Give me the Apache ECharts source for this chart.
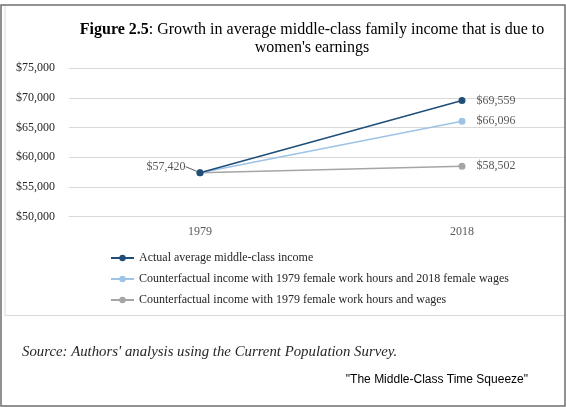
<!DOCTYPE html>
<html>
<head>
<meta charset="utf-8">
<script src="https://cdn.jsdelivr.net/npm/echarts@6/dist/echarts.min.js"></script>
<style>
html,body{margin:0;padding:0;background:#fff;}
#chart{width:566px;height:407px;}
</style>
</head>
<body>
<div id="chart"></div>
<script>
const categories = ['1979', '2018'];
const actualIncome = [57420, 69559];
const cfHours1979Wages2018 = [57420, 66096];
const cfHoursWages1979 = [57420, 58502];
const seriesNames = [
  'Actual average middle-class income',
  'Counterfactual income with 1979 female work hours and 2018 female wages',
  'Counterfactual income with 1979 female work hours and wages'
];
const yMin = 50000, yMax = 75000, yStep = 5000;
const titleBold = 'Figure 2.5';
const titleRest = ': Growth in average middle-class family income that is due to';
const titleLine2 = "women's earnings";
const sourceText = "Source: Authors' analysis using the Current Population Survey.";
const creditText = '"The Middle-Class Time Squeeze"';

const SERIF = "'Liberation Serif', 'Times New Roman', serif";
const fmt = v => '$' + Number(v).toLocaleString('en-US');

const chart = echarts.init(document.getElementById('chart'));

function lineSeries(name, data, color, z, firstLabel) {
  const s = {
    name: name,
    type: 'line',
    data: data.map((v, i) => {
      const item = { value: v };
      if (i === 0) {
        if (firstLabel) {
          item.label = { show: true, position: 'left', distance: 11 };
          item.labelLine = { show: true, length2: 0, lineStyle: { color: '#595959', width: 1 } };
        } else {
          item.label = { show: false };
        }
      }
      return item;
    }),
    symbol: 'circle',
    symbolSize: 7,
    z: z,
    itemStyle: { color: color },
    lineStyle: { color: color, width: 1.5 },
    label: {
      show: true,
      position: 'right',
      distance: 11,
      color: '#595959',
      fontFamily: SERIF,
      fontSize: 12,
      formatter: p => fmt(p.value)
    },
    labelLine: { show: false },
    emphasis: { disabled: true },
    animation: false
  };
  if (firstLabel) {
    s.labelLayout = function (p) {
      return p.dataIndex === 0 ? { dy: -6 } : {};
    };
  }
  return s;
}

chart.setOption({
  backgroundColor: '#ffffff',
  animation: false,
  title: {
    text: '{b|' + titleBold + '}' + titleRest + '\n' + titleLine2,
    left: 307,
    top: 16,
    textAlign: 'center',
    textStyle: {
      fontFamily: SERIF,
      fontSize: 16,
      fontWeight: 'normal',
      color: '#000',
      lineHeight: 18,
      rich: {
        b: { fontFamily: SERIF, fontSize: 16, fontWeight: 'bold', color: '#000', lineHeight: 18 }
      }
    }
  },
  legend: {
    orient: 'vertical',
    left: 105,
    top: 247,
    itemWidth: 23,
    itemHeight: 8,
    itemGap: 9,
    data: seriesNames,
    textStyle: { fontFamily: SERIF, fontSize: 12, color: '#262626' },
    selectedMode: false
  },
  grid: {
    left: 69,
    width: 524,
    top: 68.3,
    bottom: 190.3,
    containLabel: false,
    outerBoundsMode: 'none'
  },
  xAxis: {
    type: 'category',
    data: categories,
    boundaryGap: true,
    axisLine: { show: true, lineStyle: { color: '#d9d9d9', width: 1 } },
    axisTick: { show: false },
    axisLabel: { color: '#595959', fontFamily: SERIF, fontSize: 12, margin: 9 }
  },
  yAxis: {
    type: 'value',
    min: yMin,
    max: yMax,
    interval: yStep,
    axisLine: { show: false },
    axisTick: { show: false },
    splitLine: { lineStyle: { color: '#d9d9d9', width: 1 } },
    axisLabel: { color: '#262626', fontFamily: SERIF, fontSize: 12, margin: 14, formatter: fmt }
  },
  series: [
    lineSeries(seriesNames[2], cfHoursWages1979, '#A5A5A5', 2, false),
    lineSeries(seriesNames[1], cfHours1979Wages2018, '#9DC3E6', 3, false),
    lineSeries(seriesNames[0], actualIncome, '#1F4E79', 4, true)
  ],
  graphic: [
    { type: 'rect', z: 100, shape: { x: 565.5, y: 0, width: 2, height: 407 }, style: { fill: '#fff' } },
    { type: 'polyline', z: 100, shape: { points: [[5, 5], [5, 315.5], [565, 315.5]] }, style: { stroke: '#d9d9d9', lineWidth: 1, fill: null } },
    { type: 'rect', z: 101, shape: { x: 1, y: 5, width: 564, height: 401 }, style: { fill: null, stroke: '#6e6e6e', lineWidth: 1.5 } },
    { type: 'text', z: 100, left: 22, top: 345, style: { text: sourceText, font: 'italic 14.8px ' + SERIF, fill: '#262626' } },
    { type: 'text', z: 100, right: 38, top: 374, style: { text: creditText, font: "12px 'Liberation Sans', Arial, sans-serif", fill: '#000' } }
  ]
});
</script>
</body>
</html>
